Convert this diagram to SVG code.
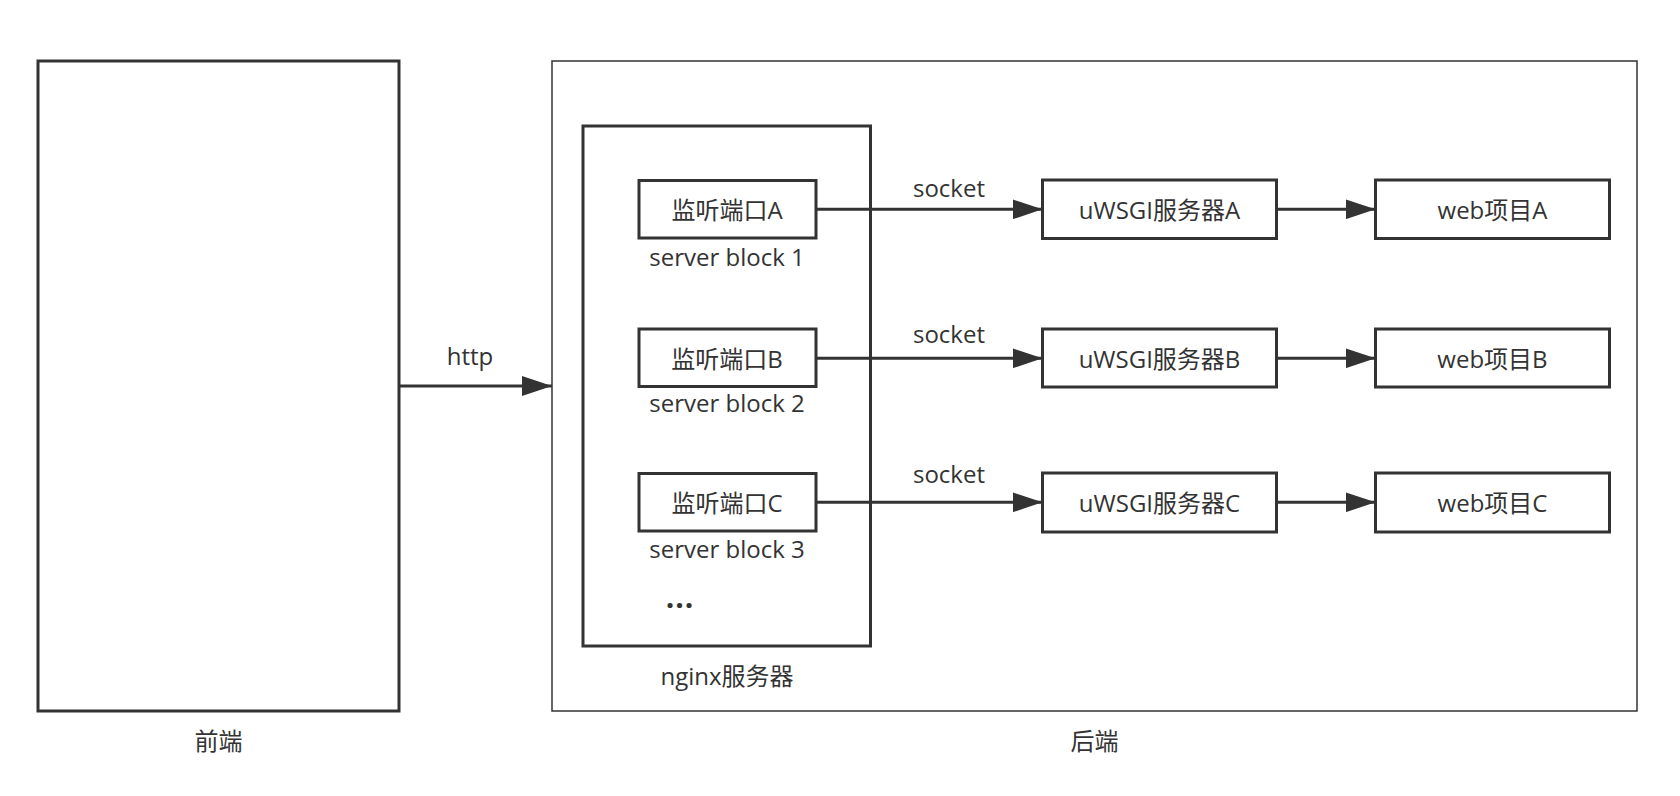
<svg xmlns="http://www.w3.org/2000/svg" width="1680" height="796" viewBox="0 0 1680 796">
<defs>
<style>
.box{fill:#ffffff;stroke:#333333;stroke-width:3}
.thin{fill:#ffffff;stroke:#333333;stroke-width:1.5}
.t{font-family:"Open Sans","Noto Sans CJK SC",sans-serif;font-size:24px;fill:#333333;text-anchor:middle}
.edge{stroke:#333333;stroke-width:3;fill:none;marker-end:url(#arr)}
</style>
<marker id="arr" markerUnits="userSpaceOnUse" markerWidth="30" markerHeight="20" viewBox="0 0 30 20" refX="30" refY="10" orient="auto">
<path d="M0,0 L30,10 L0,20 Z" fill="#333333"/>
</marker>
</defs>
<rect width="1680" height="796" fill="#ffffff"/>
<g id="frontend">
<rect class="box" x="38" y="61" width="361" height="650"/>
<text class="t" x="218.5" y="750">前端</text>
</g>
<g id="backend">
<rect class="thin" x="552" y="61" width="1085" height="650"/>
<text class="t" x="1094.5" y="750">后端</text>
</g>
<g id="nginx">
<rect class="box" x="583" y="126" width="287.5" height="520"/>
<text class="t" x="727" y="685">nginx服务器</text>
<text class="t" x="680" y="608" style="font-size:30px;font-weight:bold;letter-spacing:1px">...</text>
</g>
<g id="portA">
<rect class="box" x="639" y="180.5" width="177" height="57.5"/>
<text class="t" x="727" y="219">监听端口A</text>
<text class="t" x="727" y="266">server block 1</text>
</g>
<g id="portB">
<rect class="box" x="639" y="329" width="177" height="57.5"/>
<text class="t" x="727" y="368">监听端口B</text>
<text class="t" x="727" y="412">server block 2</text>
</g>
<g id="portC">
<rect class="box" x="639" y="473.5" width="177" height="57.5"/>
<text class="t" x="727" y="512">监听端口C</text>
<text class="t" x="727" y="558">server block 3</text>
</g>
<g id="uwsgiA">
<rect class="box" x="1042.5" y="180" width="234" height="58.5"/>
<text class="t" x="1159.5" y="219">uWSGI服务器A</text>
</g>
<g id="uwsgiB">
<rect class="box" x="1042.5" y="329" width="234" height="58"/>
<text class="t" x="1159.5" y="368">uWSGI服务器B</text>
</g>
<g id="uwsgiC">
<rect class="box" x="1042.5" y="473" width="234" height="59"/>
<text class="t" x="1159.5" y="512">uWSGI服务器C</text>
</g>
<g id="webA">
<rect class="box" x="1375.5" y="180" width="234" height="58.5"/>
<text class="t" x="1492.5" y="219">web项目A</text>
</g>
<g id="webB">
<rect class="box" x="1375.5" y="329" width="234" height="58"/>
<text class="t" x="1492.5" y="368">web项目B</text>
</g>
<g id="webC">
<rect class="box" x="1375.5" y="473" width="234" height="59"/>
<text class="t" x="1492.5" y="512">web项目C</text>
</g>
<g id="connectors">
<line class="edge" x1="399" y1="386" x2="552" y2="386"/>
<text class="t" x="470" y="365">http</text>
<line class="edge" x1="816" y1="209.3" x2="1042.5" y2="209.3"/>
<text class="t" x="949" y="197">socket</text>
<line class="edge" x1="816" y1="358.3" x2="1042.5" y2="358.3"/>
<text class="t" x="949" y="343">socket</text>
<line class="edge" x1="816" y1="502.3" x2="1042.5" y2="502.3"/>
<text class="t" x="949" y="483">socket</text>
<line class="edge" x1="1276.5" y1="209.3" x2="1375.5" y2="209.3"/>
<line class="edge" x1="1276.5" y1="358.3" x2="1375.5" y2="358.3"/>
<line class="edge" x1="1276.5" y1="502.3" x2="1375.5" y2="502.3"/>
</g>
</svg>
